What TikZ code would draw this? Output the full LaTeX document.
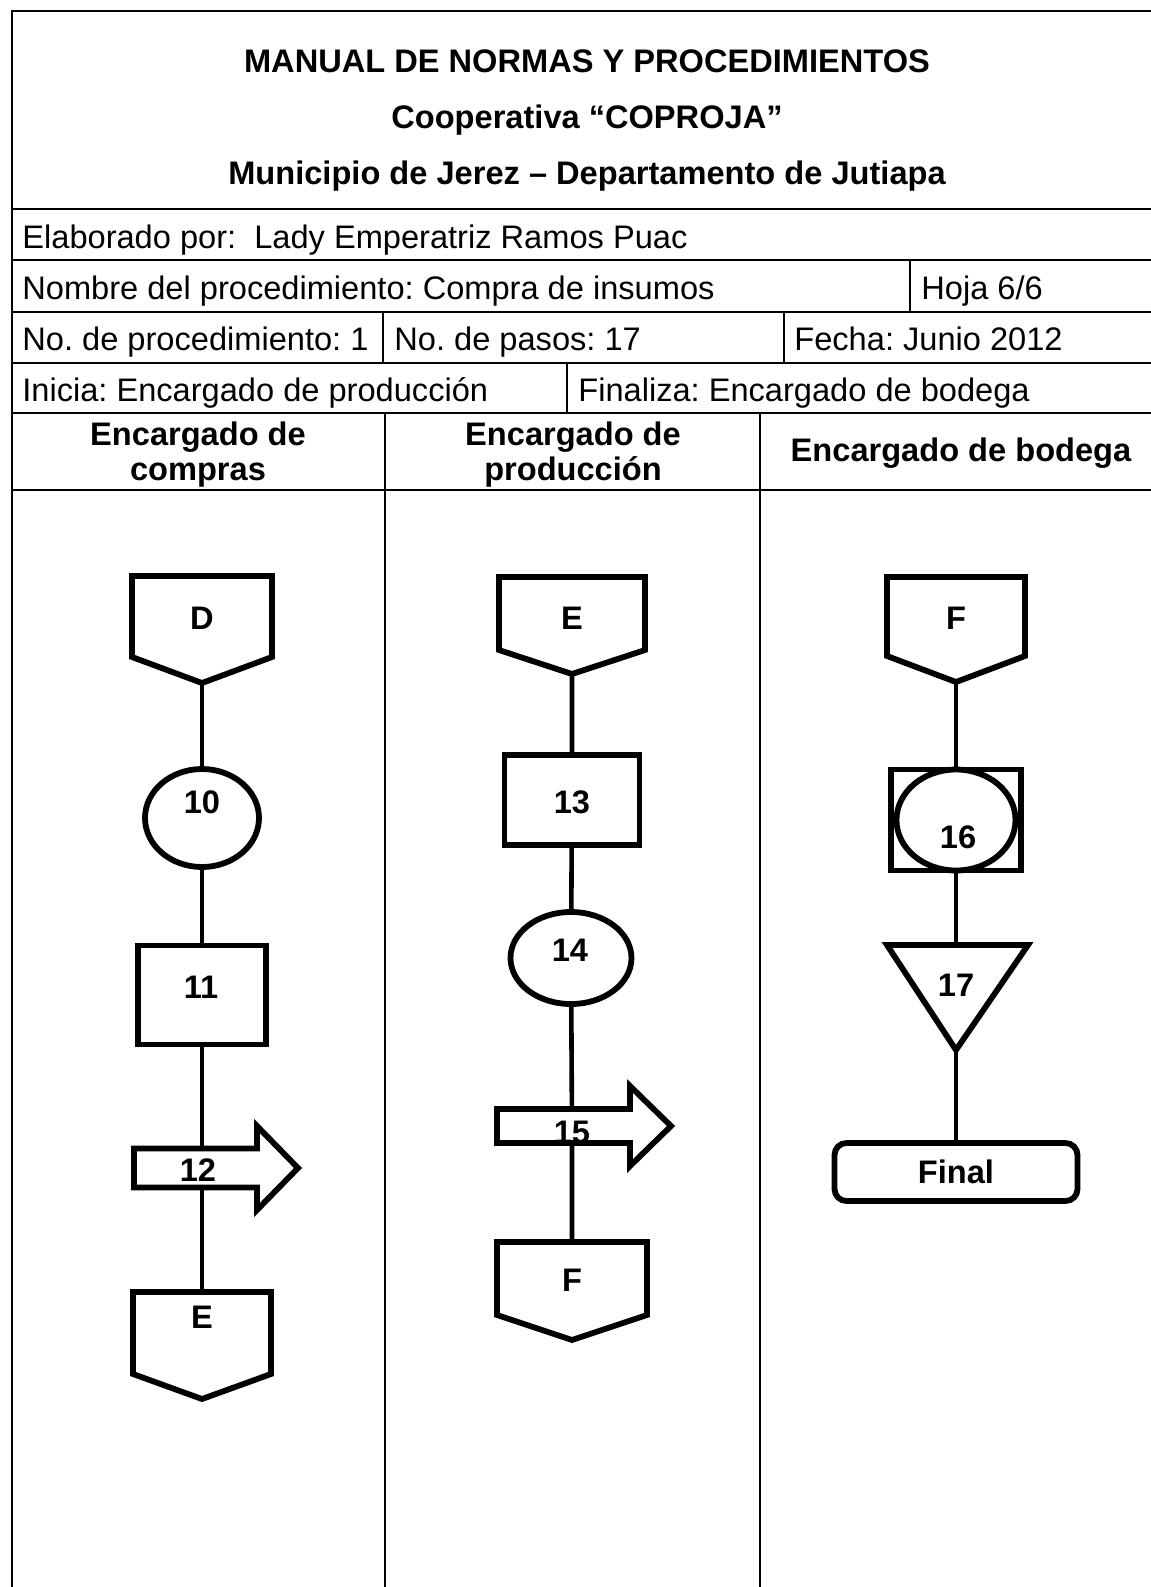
\documentclass[tikz,border=0pt]{standalone}
\usepackage{fontspec}
\setmainfont{Liberation Sans}
\usetikzlibrary{shapes.geometric,backgrounds,positioning}
\frenchspacing

\begin{document}
\begin{tikzpicture}[x=0.5pt,y=-0.5pt,
	tabla/.style={line width=1pt},
	caja/.style={draw,line width=2.9pt,fill=white,inner sep=0pt},
	linea/.style={line width=2.3pt},
	txt/.style={anchor=base west,inner sep=0pt,font=\fontsize{16.3}{19}\selectfont},
	etiq/.style={inner sep=0pt,font=\bfseries\fontsize{16.3}{17.5}\selectfont}]
	\useasboundingbox (0,0) rectangle (1151,1587);
	% cuadro
	\draw[tabla] (12,1587)--(12,11)--(1151,11);
	\foreach \y in {209,260,312,363,413,490}{\draw[tabla] (12,\y)--(1151,\y);}
	\foreach \x/\a/\b in {910/260/312, 383/312/363, 784/312/363, 567/363/413, 385/413/1587, 760/413/1587}
	{\draw[tabla] (\x,\a)--(\x,\b);}
	\node[etiq,anchor=base] (tit1) at (587,72) {MANUAL DE NORMAS Y PROCEDIMIENTOS};
	\node[etiq,anchor=base] (tit2) at (587,128) {Cooperativa “COPROJA”};
	\node[etiq,anchor=base] (tit3) at (587,184) {Municipio de Jerez – Departamento de Jutiapa};
	\node[txt] (elab) at (22,248) {Elaborado por:\ \ Lady Emperatriz Ramos Puac};
	\node[txt] (nomb) at (22,299) {Nombre del procedimiento: Compra de insumos};
	\node[txt] (hoja) at (921,299) {Hoja 6/6};
	\node[txt] (nproc) at (22,350) {No. de procedimiento: 1};
	\node[txt] (npasos) at (394,350) {No. de pasos: 17};
	\node[txt] (fecha) at (794,350) {Fecha: Junio 2012};
	\node[txt] (inicia) at (22,401) {Inicia: Encargado de producción};
	\node[txt] (finaliza) at (578,401) {Finaliza: Encargado de bodega};
	\node[etiq,align=center] (col1) at (198,455) {Encargado de\\compras};
	\node[etiq,align=center] (col2) at (573,455) {Encargado de\\producción};
	\node[etiq,anchor=base] (col3) at (961,461) {Encargado de bodega};
	% conectores de pagina
	\foreach \n/\x/\t/\w/\s/\p/\ly/\l in {d/202/576/70/81/107/618/D, e1/202/1292/69/82/107/1317/E, e2/572/577/73/73/97/618/E, f2/572/1242/75/73/98/1280/F, f3/956/577/69/79/105/618/F}
	{\draw[caja] (\x-\w,\t)--(\x+\w,\t)--(\x+\w,\t+\s)--(\x,\t+\p)--(\x-\w,\t+\s)--cycle;
	\coordinate (\n-p) at (\x,\t+\p);
	\node[etiq] (\n) at (\x,\ly) {\l};}
	% flechas
	\foreach \n/\x/\y/\b/\h/\H in {a12/134/1168/123/19.5/42, a15/497/1126/133/17/40}
	{\draw[caja] (\x,\y-\h)--(\x+\b,\y-\h)--(\x+\b,\y-\H)--(\x+\b+41,\y)--(\x+\b,\y+\H)--(\x+\b,\y+\h)--(\x,\y+\h)--cycle;}
	\coordinate (a12) at (202,1168);
	\coordinate (a15) at (572,1126);
	\node[caja,ellipse,minimum width=57pt,minimum height=49pt] (p10) at (202,818) {};
	\node[caja,minimum width=64pt,minimum height=49.5pt] (p11) at (202,995) {};
	\node[caja,minimum width=67.5pt,minimum height=45pt] (p13) at (572,800) {};
	\node[caja,ellipse,minimum width=60.5pt,minimum height=46pt] (p14) at (571,958) {};
	\node[caja,minimum width=65pt,minimum height=50.5pt] (p16) at (956,820) {};
	\node[caja,ellipse,minimum width=59.5pt,minimum height=50.5pt] (p16b) at (p16) {};
	\draw[caja] (887,945)--(1028,945)--(956,1050)--cycle;
	\node[caja,rounded corners=6pt,minimum width=121.5pt,minimum height=29pt,font=\bfseries\fontsize{16.3}{17.5}\selectfont] (final) at (956,1172) {Final};
	\foreach \n/\x/\y/\l in {t10/202/802/10, t11/201/987/11, t12/198/1170/12, t13/572/802/13, t14/570/950/14, t15/572/1132/15, t16/958/837/16, t17/956/985/17}
	{\node[etiq] (\n) at (\x,\y) {\l};}
	% lineas
	\begin{scope}[on background layer]
	\draw[linea] (d-p)--(p10)--(p11)--(a12)--(e1);
	\draw[linea] (e2-p)--(p13)--(p14)--(a15)--(f2);
	\draw[linea] (f3-p)--(p16)--(t17)--(final);
	\end{scope}
\end{tikzpicture}
\end{document}
